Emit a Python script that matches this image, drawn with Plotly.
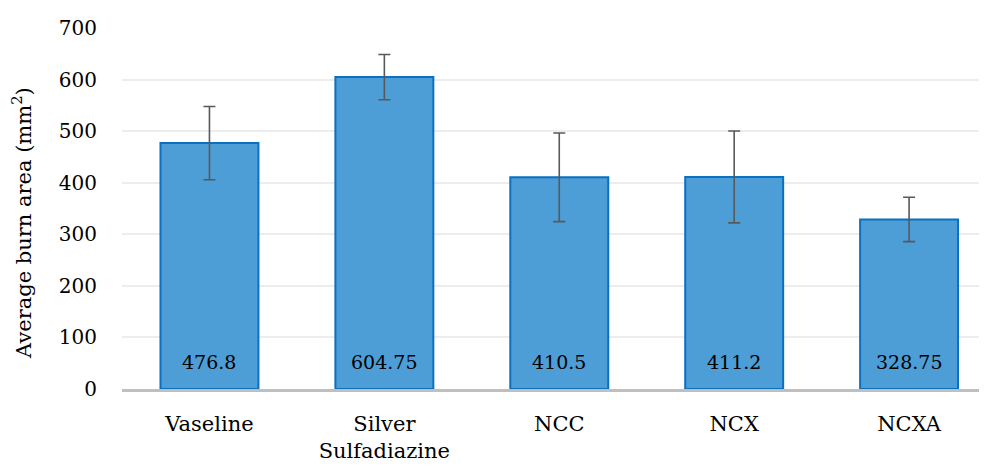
import plotly.graph_objects as go

categories = ["Vaseline", "Silver<br>Sulfadiazine", "NCC", "NCX", "NCXA"]
values = [476.8, 604.75, 410.5, 411.2, 328.75]
errors = [71, 44, 86, 89, 43]
value_labels = ["476.8", "604.75", "410.5", "411.2", "328.75"]
y_ticks = [0, 100, 200, 300, 400, 500, 600, 700]
y_title = "Average burn area (mm<sup>2</sup>)"

FONT = "DejaVu Serif"

xs = list(range(len(categories)))

fig = go.Figure()
fig.add_trace(go.Bar(
    x=xs,
    y=values,
    width=0.56,
    marker=dict(color="#4d9dd6", line=dict(color="#0a70c0", width=2)),
    error_y=dict(type="data", array=errors, visible=True, color="#595959",
                 thickness=1.6, width=6),
    hoverinfo="skip",
))

annotations = [
    dict(x=xv, y=0, xref="x", yref="y", text=lbl, showarrow=False,
         yanchor="middle", xanchor="center", yshift=27,
         font=dict(family=FONT, size=19, color="black"))
    for xv, lbl in zip(xs, value_labels)
]
annotations.append(dict(
    x=-0.1159, y=0.46, xref="paper", yref="paper", text=y_title,
    showarrow=False, textangle=-90, xanchor="center", yanchor="middle",
    font=dict(family=FONT, size=21, color="black"),
))

fig.update_layout(
    width=979, height=457,
    margin=dict(l=114, r=2, t=20, b=76),
    plot_bgcolor="white", paper_bgcolor="white",
    font=dict(family=FONT, size=20, color="black"),
    showlegend=False,
    annotations=annotations,
    xaxis=dict(
        tickmode="array",
        tickvals=xs,
        ticktext=categories,
        range=[-0.5, 4.434],
        showgrid=False,
        showline=True, linecolor="#bfbfbf", linewidth=2.5,
        ticks="", ticklabelstandoff=14,
        automargin=False,
        tickfont=dict(family=FONT, size=21, color="black"),
    ),
    yaxis=dict(
        range=[0, 700],
        tickvals=y_ticks,
        showgrid=True, gridcolor="#ededed", gridwidth=1.5,
        zeroline=False, showline=False, ticks="",
        ticklabelstandoff=24,
        automargin=False,
        tickfont=dict(family=FONT, size=20, color="black"),
    ),
)

fig.write_html("out.html")
